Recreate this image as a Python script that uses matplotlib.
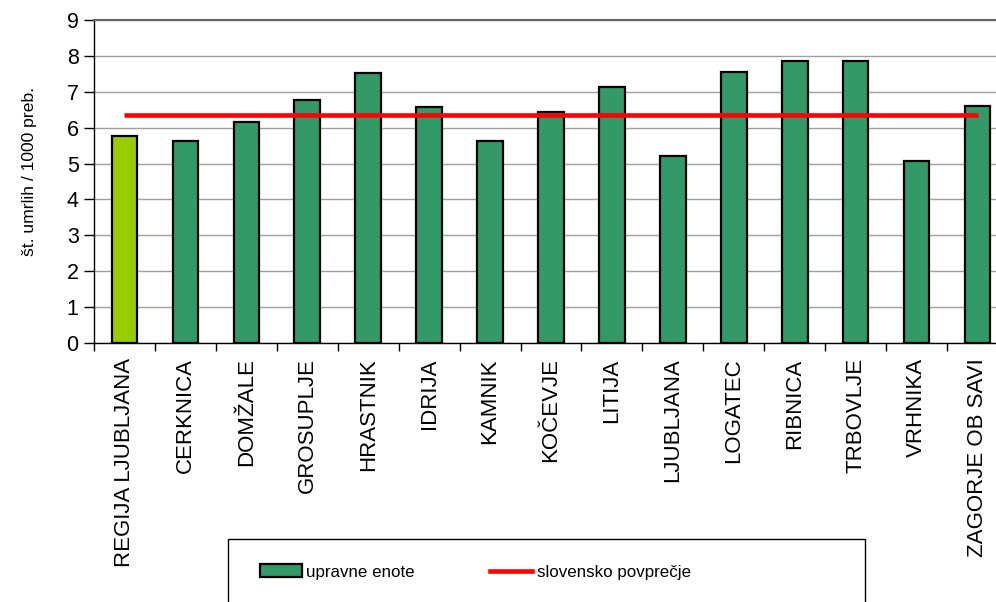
import matplotlib
matplotlib.use("Agg")
import matplotlib.pyplot as plt
from matplotlib.patches import Rectangle, Patch
from matplotlib.lines import Line2D

plt.rcParams['font.family'] = ['Liberation Sans', 'DejaVu Sans']

categories = ["REGIJA LJUBLJANA", "CERKNICA", "DOMŽALE", "GROSUPLJE", "HRASTNIK",
              "IDRIJA", "KAMNIK", "KOČEVJE", "LITIJA", "LJUBLJANA", "LOGATEC",
              "RIBNICA", "TRBOVLJE", "VRHNIKA", "ZAGORJE OB SAVI"]
deaths_per_1000 = [5.76, 5.64, 6.16, 6.77, 7.53, 6.58, 5.63, 6.43, 7.12, 5.20,
                   7.56, 7.85, 7.85, 5.08, 6.60]
slovenian_average = 6.34
y_ticks = list(range(0, 10))

region_color = "#99CC00"
unit_color = "#339966"
avg_color = "#FF0000"

fig = plt.figure(figsize=(9.96, 6.02), dpi=100)
ax = fig.add_axes([94 / 996, 1 - 343 / 602, (1008 - 94) / 996, (343 - 20) / 602])

x = list(range(len(categories)))
colors = [region_color] + [unit_color] * (len(categories) - 1)
ax.bar(x, deaths_per_1000, width=0.42, color=colors, edgecolor="black",
       linewidth=1.6, zorder=3)
ax.plot([x[0], x[-1]], [slovenian_average] * 2, color=avg_color, linewidth=3.3,
        solid_capstyle="butt", zorder=4)

ax.set_xlim(-0.5, len(categories) - 0.5)
ax.set_ylim(0, 9)
ax.set_yticks(y_ticks)
ax.tick_params(axis="y", direction="out", length=7, width=1, labelsize=15.5, pad=4)
ax.yaxis.grid(True, color="#a0a0a0", linewidth=1, zorder=0)
ax.set_axisbelow(True)

ax.set_xticks(x)
ax.set_xticklabels(categories, rotation=90, fontsize=16, va="top", ha="center")
ax.tick_params(axis="x", which="major", length=0, pad=11)
ax.set_xticks([i - 0.5 for i in range(len(categories) + 1)], minor=True)
ax.tick_params(axis="x", which="minor", direction="out", length=6, width=1)

ax.set_ylabel("št. umrlih / 1000 preb.", fontsize=12.6)
ax.yaxis.set_label_coords(-0.0624, 0.531)

for side in ("left", "bottom"):
    ax.spines[side].set_color("black")
    ax.spines[side].set_linewidth(1)
ax.spines["top"].set_color("#666666")
ax.spines["top"].set_linewidth(1.5)
ax.spines["right"].set_visible(False)

# Legend frame running off the bottom edge
fig.patches.append(Rectangle((227.7 / 996, -0.05), (865.3 - 227.7) / 996,
                             (602 - 539.3) / 602 + 0.05, transform=fig.transFigure,
                             facecolor="white", edgecolor="black", linewidth=1))

handles = [Patch(facecolor=unit_color, edgecolor="black", linewidth=1.6),
           Line2D([0], [0], color=avg_color, linewidth=3.3)]
fig.legend(handles, ["upravne enote", "slovensko povprečje"], ncol=2, frameon=False,
           fontsize=12.2, loc="center left", bbox_to_anchor=(260 / 996, 30 / 602),
           borderaxespad=0, borderpad=0, handlelength=2.48, handleheight=0.75,
           handletextpad=0.25, columnspacing=4.45)

fig.savefig("out.png", dpi=100)
